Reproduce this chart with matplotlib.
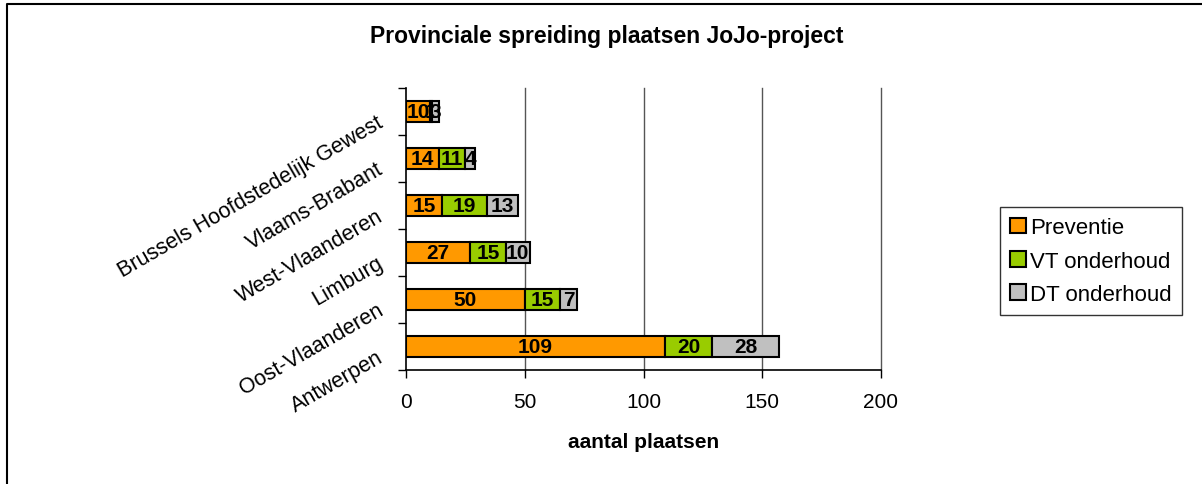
import matplotlib
matplotlib.use("Agg")
import matplotlib.pyplot as plt
from matplotlib.patches import Patch
from matplotlib.lines import Line2D
import numpy as np

plt.rcParams['font.family'] = ['Liberation Sans', 'DejaVu Sans']

categories = ["Antwerpen", "Oost-Vlaanderen", "Limburg", "West-Vlaanderen",
              "Vlaams-Brabant", "Brussels Hoofdstedelijk Gewest"]
preventie = [109, 50, 27, 15, 14, 10]
vt_onderhoud = [20, 15, 15, 19, 11, 1]
dt_onderhoud = [28, 7, 10, 13, 4, 3]
series_names = ["Preventie", "VT onderhoud", "DT onderhoud"]
colors = ["#FF9900", "#99CC00", "#C0C0C0"]
xticks = [0, 50, 100, 150, 200]

W, H = 1202, 485
fig = plt.figure(figsize=(W / 100, H / 100), dpi=100)
ax = fig.add_axes([406 / W, 1 - 371 / H, (881 - 406) / W, (371 - 89) / H])

y = np.arange(len(categories))
left = np.zeros(len(categories))
handles = []
for vals, name, col in zip([preventie, vt_onderhoud, dt_onderhoud], series_names, colors):
    bars = ax.barh(y, vals, left=left, height=0.43, color=col, edgecolor="black",
                   linewidth=1.5, zorder=3)
    for b, v in zip(bars, vals):
        ax.text(b.get_x() + b.get_width() / 2, b.get_y() + b.get_height() / 2,
                str(v), ha="center", va="center", fontsize=15, fontweight="bold",
                color="black", zorder=4)
    left = left + np.array(vals)
    handles.append(Patch(facecolor=col, edgecolor="black", linewidth=1.5, label=name))

ax.set_xlim(0, 200)
ax.set_ylim(-0.5, len(categories) - 0.5)
ax.set_xticks(xticks)
ax.set_xticklabels([str(t) for t in xticks], fontsize=15)
ax.tick_params(axis="x", direction="out", length=6, width=1, pad=10, color="black")
for t in xticks[1:]:
    ax.axvline(t, color="#555555", linewidth=1.0, zorder=1, clip_on=False)

ax.set_yticks(y)
ax.set_yticklabels([])
ax.tick_params(axis="y", which="major", length=0)
ax.set_yticks(np.arange(-0.5, len(categories), 1.0), minor=True)
ax.tick_params(axis="y", which="minor", direction="out", length=6, width=1, color="black")

for i, cat in enumerate(categories):
    ax.annotate(cat, xy=(0, i), xycoords=("axes fraction", "data"),
                xytext=(-14, -13), textcoords="offset points",
                rotation=30, rotation_mode="anchor", ha="right", va="bottom",
                fontsize=15.5)

for s in ["top", "right"]:
    ax.spines[s].set_visible(False)
for s in ["left", "bottom"]:
    ax.spines[s].set_color("black")
    ax.spines[s].set_linewidth(1.2)

ax.set_xlabel("aantal plaatsen", fontsize=15, fontweight="bold", labelpad=15)

fig.text(0.5 * (365 + 848) / W, 1 - 37 / H, "Provinciale spreiding plaatsen JoJo-project",
         ha="center", va="center", fontsize=16.5, fontweight="bold")

leg = fig.legend(handles=handles, loc="center left",
                 bbox_to_anchor=(1000 / W, 1 - 262 / H), fontsize=16,
                 frameon=True, fancybox=False, shadow=False, edgecolor="black",
                 handlelength=0.7, handleheight=0.7, handletextpad=0.2,
                 labelspacing=0.55, borderpad=0.45, borderaxespad=0)
leg.get_frame().set_linewidth(1.0)

fig.add_artist(Line2D([7 / W, 7 / W, 1.0], [0.0, 1 - 5 / H, 1 - 5 / H],
                      transform=fig.transFigure, color="black", linewidth=1.5))

fig.savefig("out.png", dpi=100, facecolor="white")
